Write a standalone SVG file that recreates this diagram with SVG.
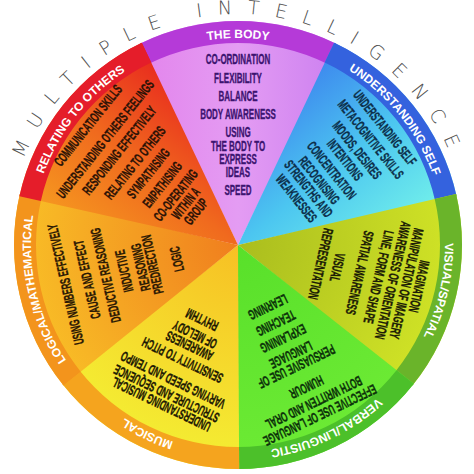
<svg xmlns="http://www.w3.org/2000/svg" width="474" height="474" viewBox="0 0 474 474">
<defs>
  <style>
    .rl{font-family:"Liberation Sans",Arial,sans-serif;font-weight:bold;font-size:12px;fill:#ffffff;}
    .it{font-family:"Liberation Sans",Arial,sans-serif;font-weight:bold;font-size:14px;text-anchor:middle;stroke-width:0.35px;}
    .title{font-family:"DejaVu Sans","Open Sans",sans-serif;font-weight:200;font-size:19px;fill:#505050;letter-spacing:15.3px;}
  </style>
  <path id="tp" d="M7,245 A231,231 0 0 1 469,245"/>
  <path id="ra" d="M-207,0 A207,207 0 0 1 207,0"/>
  <path id="wedge" d="M0,0 L-98.19,-201.33 A224,224 0 0 1 98.19,-201.33 Z"/>
  <path id="ring" d="M-98.19,-201.33 A224,224 0 0 1 98.19,-201.33 L88.55,-181.56 A202,202 0 0 0 -88.55,-181.56 Z"/>
  <linearGradient id="gBody" gradientUnits="userSpaceOnUse" x1="-100" y1="0" x2="100" y2="0">
    <stop offset="0" stop-color="#e384ec"/><stop offset="0.5" stop-color="#e49cf3"/><stop offset="1" stop-color="#cc80f0"/>
  </linearGradient>
  <linearGradient id="gSelf" gradientUnits="userSpaceOnUse" x1="-100" y1="0" x2="100" y2="0">
    <stop offset="0" stop-color="#3c84ee"/><stop offset="0.5" stop-color="#4cc6f0"/><stop offset="1" stop-color="#74f2ea"/>
  </linearGradient>
  <radialGradient id="gVis" gradientUnits="userSpaceOnUse" cx="0" cy="0" r="210">
    <stop offset="0" stop-color="#aabd1e"/><stop offset="1" stop-color="#cfe226"/>
  </radialGradient>
  <radialGradient id="gVerb" gradientUnits="userSpaceOnUse" cx="0" cy="0" r="210">
    <stop offset="0" stop-color="#58e02a"/><stop offset="1" stop-color="#6cea34"/>
  </radialGradient>
  <radialGradient id="gMus" gradientUnits="userSpaceOnUse" cx="0" cy="0" r="210">
    <stop offset="0" stop-color="#f7c024"/><stop offset="1" stop-color="#f4ec32"/>
  </radialGradient>
  <radialGradient id="gLog" gradientUnits="userSpaceOnUse" cx="0" cy="0" r="210">
    <stop offset="0" stop-color="#f07e1e"/><stop offset="1" stop-color="#f8bc26"/>
  </radialGradient>
  <linearGradient id="gRel" gradientUnits="userSpaceOnUse" x1="-100" y1="0" x2="100" y2="0">
    <stop offset="0" stop-color="#f69c20"/><stop offset="0.5" stop-color="#f06a1e"/><stop offset="1" stop-color="#e8261e"/>
  </linearGradient>
</defs>
<rect width="474" height="474" fill="#ffffff"/>

<text id="title" class="title"><textPath href="#tp" startOffset="365" text-anchor="middle">MULTIPLE INTELLIGENCE</textPath></text>

<g id="body" transform="translate(238,245)">
  <use href="#wedge" fill="url(#gBody)"/>
  <use href="#ring" fill="#b53ad8"/>
  <text class="rl"><textPath href="#ra" startOffset="50%" text-anchor="middle">THE BODY</textPath></text>
  <g transform="scale(0.57,1)" class="it" fill="#3c1470" stroke="#3c1470">
    <text y="-181">CO-ORDINATION</text>
    <text y="-162">FLEXIBILITY</text>
    <text y="-144">BALANCE</text>
    <text y="-126">BODY AWARENESS</text>
    <text y="-108">USING</text>
    <text y="-94">THE BODY TO</text>
    <text y="-81">EXPRESS</text>
    <text y="-68">IDEAS</text>
    <text y="-50">SPEED</text>
  </g>
</g>

<g id="self" transform="translate(238,245) rotate(51.43)">
  <use href="#wedge" fill="url(#gSelf)"/>
  <use href="#ring" fill="#3462de"/>
  <text class="rl"><textPath href="#ra" startOffset="50%" text-anchor="middle">UNDERSTANDING SELF</textPath></text>
  <g transform="scale(0.57,1)" class="it" fill="#0c2f4a" stroke="#0c2f4a">
    <text y="-183">UNDERSTANDING SELF</text>
    <text y="-165">METACOGNITIVE SKILLS</text>
    <text y="-147.5">MOODS, DESIRES</text>
    <text y="-132">INTENTIONS</text>
    <text y="-115">CONCENTRATION</text>
    <text y="-99">RECOGNISING</text>
    <text y="-85.5">STRENGTHS AND</text>
    <text y="-70">WEAKNESSES</text>
  </g>
</g>

<g id="visual" transform="translate(238,245) rotate(102.86)">
  <use href="#wedge" fill="url(#gVis)"/>
  <use href="#ring" fill="#6ab42a"/>
  <text class="rl"><textPath href="#ra" startOffset="50%" text-anchor="middle">VISUAL/SPATIAL</textPath></text>
  <g transform="scale(0.57,1)" class="it" fill="#1c1c06" stroke="#1c1c06">
    <text y="-181">IMAGINATION</text>
    <text y="-168">MANIPULATION OF IMAGERY</text>
    <text y="-154">AWARENESS OF ORIENTATION</text>
    <text y="-139.5">LINE, FORM AND SHAPE</text>
    <text y="-120">SPATIAL AWARENESS</text>
    <text y="-97">VISUAL</text>
    <text y="-80">REPRESENTATION</text>
  </g>
</g>

<g id="verbal" transform="translate(238,245) rotate(154.29)">
  <use href="#wedge" fill="url(#gVerb)"/>
  <use href="#ring" fill="#4cc02a"/>
  <text class="rl"><textPath href="#ra" startOffset="50%" text-anchor="middle">VERBAL/LINGUISTIC</textPath></text>
  <g transform="scale(0.57,1)" class="it" fill="#0c320a" stroke="#0c320a">
    <text y="-184">EFFECTIVE USE OF LANGUAGE</text>
    <text y="-170">BOTH WRITTEN AND ORAL</text>
    <text y="-153">HUMOUR</text>
    <text y="-130">PERSUASIVE USE OF</text>
    <text y="-117">LANGUAGE</text>
    <text y="-99">EXPLAINING</text>
    <text y="-82">TEACHING</text>
    <text y="-64">LEARNING</text>
  </g>
</g>

<g id="musical" transform="translate(238,245) rotate(205.71)">
  <use href="#wedge" fill="url(#gMus)"/>
  <use href="#ring" fill="#f5a41e"/>
  <text class="rl"><textPath href="#ra" startOffset="50%" text-anchor="middle">MUSICAL</textPath></text>
  <g transform="scale(0.57,1)" class="it" fill="#1e1a04" stroke="#1e1a04">
    <text y="-172">UNDERSTANDING MUSICAL</text>
    <text y="-160">STRUCTURE AND SEQUENCE</text>
    <text y="-145">VARYING SPEED AND TEMPO</text>
    <text y="-123">SENSITIVITY TO PITCH</text>
    <text y="-107">AWARENESS</text>
    <text y="-94.5">OF MELODY</text>
    <text y="-78">RHYTHM</text>
  </g>
</g>

<g id="logical" transform="translate(238,245) rotate(257.14)">
  <use href="#wedge" fill="url(#gLog)"/>
  <use href="#ring" fill="#f3941c"/>
  <text class="rl"><textPath href="#ra" startOffset="50%" text-anchor="middle">LOGICAL/MATHEMATICAL</textPath></text>
  <g transform="scale(0.57,1)" class="it" fill="#2a1804" stroke="#2a1804">
    <text y="-172">USING NUMBERS EFFECTIVELY</text>
    <text y="-150">CAUSE AND EFFECT</text>
    <text y="-131">DEDUCTIVE REASONING</text>
    <text y="-112">INDUCTIVE</text>
    <text y="-95">REASONING</text>
    <text y="-83">PREDIRECTION</text>
    <text y="-58">LOGIC</text>
  </g>
</g>

<g id="relating" transform="translate(238,245) rotate(308.57)">
  <use href="#wedge" fill="url(#gRel)"/>
  <use href="#ring" fill="#e51d2a"/>
  <text class="rl"><textPath href="#ra" startOffset="50%" text-anchor="middle">RELATING TO OTHERS</textPath></text>
  <g transform="scale(0.57,1)" class="it" fill="#2a1206" stroke="#2a1206">
    <text y="-187">COMMUNICATION SKILLS</text>
    <text y="-165">UNDERSTANDING OTHERS FEELINGS</text>
    <text y="-147">RESPONDING EFFECTIVELY</text>
    <text y="-127">RELATING TO OTHERS</text>
    <text y="-110">SYMPATHISING</text>
    <text y="-92">EMPATHISING</text>
    <text y="-75">CO-OPERATING</text>
    <text y="-62">WITHIN A</text>
    <text y="-49">GROUP</text>
  </g>
</g>
</svg>
